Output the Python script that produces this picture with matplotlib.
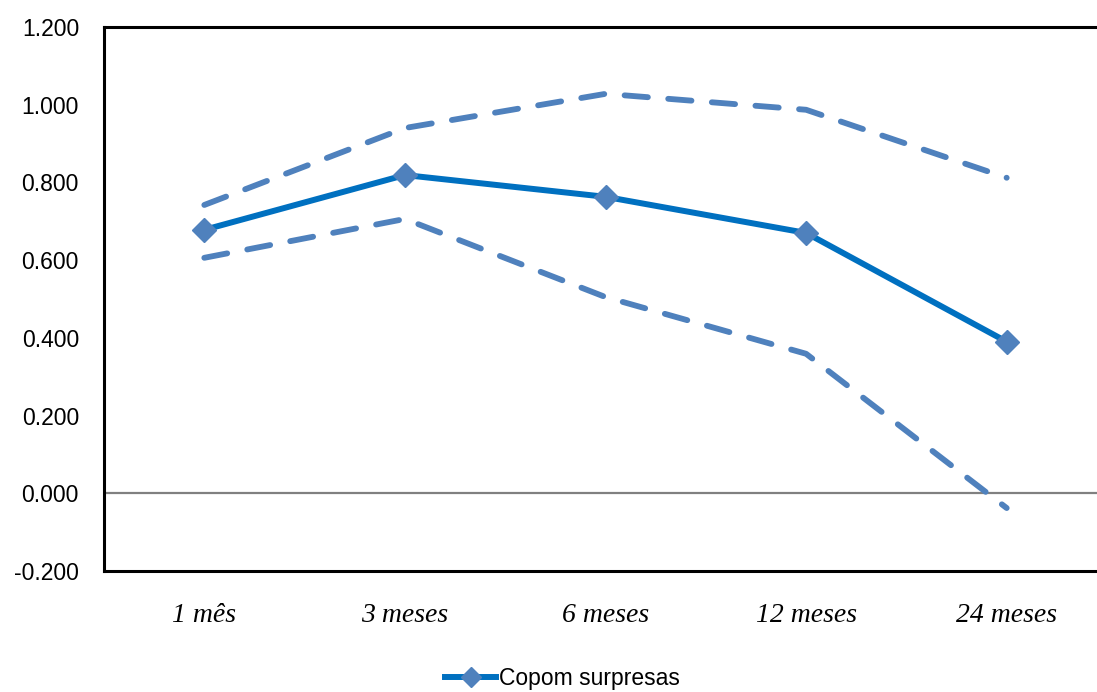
import matplotlib.pyplot as plt
from matplotlib.lines import Line2D

categories = ["1 mês", "3 meses", "6 meses", "12 meses", "24 meses"]
surpresas = [0.678, 0.819, 0.763, 0.670, 0.390]
upper = [0.742, 0.940, 1.028, 0.987, 0.812]
lower = [0.606, 0.706, 0.505, 0.359, -0.038]
yticks = [-0.2, 0.0, 0.2, 0.4, 0.6, 0.8, 1.0, 1.2]

BLUE = "#0070C0"
LIGHT = "#4F81BD"

fig = plt.figure(figsize=(10.97, 6.92), dpi=100)
# right edge of plot area sits just outside the picture, as in the original
ax = fig.add_axes([104 / 1097, 1 - 571 / 692, 1003 / 1097, 544 / 692])

x = range(len(categories))
ax.axhline(0, color="#808080", lw=1.6, zorder=1)
dash = dict(color=LIGHT, lw=4.2, ls=(0, (4.0, 3.5)), dash_capstyle="round", zorder=2)
ax.plot(x, upper, **dash)
ax.plot(x, lower, **dash)
ax.plot(x, surpresas, color=BLUE, lw=4.3, marker="D", ms=12.5,
        mfc=LIGHT, mec=LIGHT, zorder=3)

ax.set_xlim(-0.5, 4.5)
ax.set_ylim(-0.2, 1.2)
ax.set_yticks(yticks)
ax.set_yticklabels([f"{v:.3f}" for v in yticks], fontsize=16.5, family="Liberation Sans")
ax.set_xticks(list(x))
ax.set_xticklabels(categories, fontsize=20, family="Liberation Serif", style="italic")
ax.tick_params(axis="both", length=0)
ax.tick_params(axis="x", pad=23)
ax.tick_params(axis="y", pad=18)

for s in ["left", "top", "bottom"]:
    ax.spines[s].set_linewidth(2.2)
    ax.spines[s].set_color("black")
ax.spines["right"].set_visible(False)

handle = Line2D([], [], color=BLUE, lw=4.3, marker="D", ms=10, mfc=LIGHT, mec=LIGHT)
fig.legend([handle], ["Copom surpresas"], loc="center", bbox_to_anchor=(0.513, 0.02),
           frameon=False, prop={"family": "Liberation Sans", "size": 16.5},
           handlelength=2.2, handletextpad=0.15)

fig.savefig("out.png", dpi=100)
